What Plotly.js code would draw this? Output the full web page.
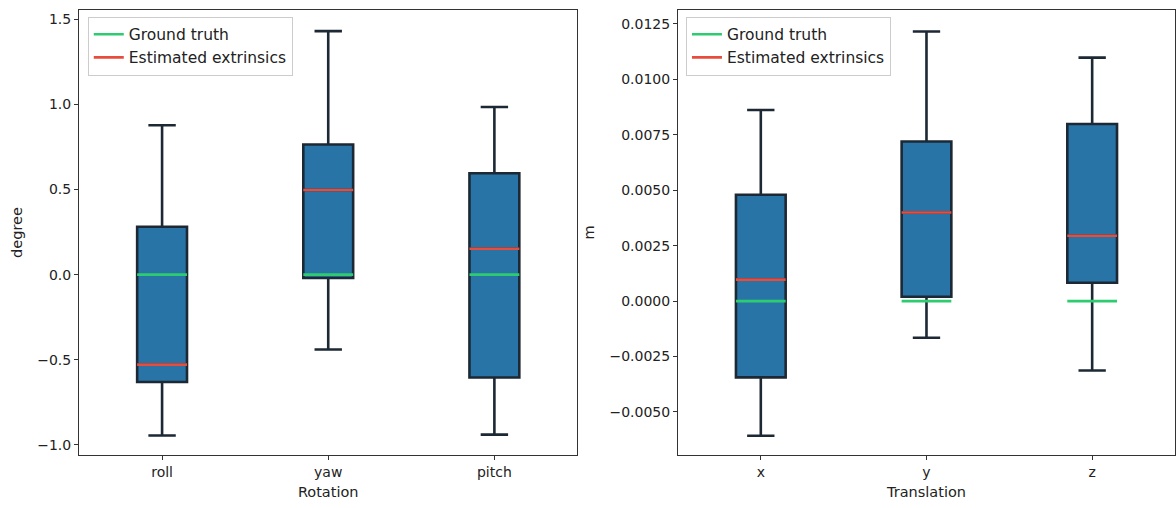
<!DOCTYPE html>
<html>
<head>
<meta charset="utf-8">
<script src="https://cdn.plot.ly/plotly-3.0.1.min.js"></script>
<style>html,body{margin:0;padding:0;background:#fff;}#chart{width:1176px;height:508px;}</style>
</head>
<body>
<div id="chart"></div>
<script>
// ---- Data ----
const rotCategories = ["roll", "yaw", "pitch"];
const rotLowerWhisker = [-0.945, -0.44, -0.94];
const rotQ1 = [-0.631, -0.02, -0.605];
const rotMedian = [-0.529, 0.497, 0.152];
const rotQ3 = [0.281, 0.765, 0.596];
const rotUpperWhisker = [0.878, 1.431, 0.985];
const rotGroundTruth = [0, 0, 0];

const transCategories = ["x", "y", "z"];
const transLowerWhisker = [-0.00607, -0.00165, -0.00313];
const transQ1 = [-0.00344, 0.0002, 0.00083];
const transMedian = [0.00097, 0.0040, 0.00295];
const transQ3 = [0.0048, 0.0072, 0.00799];
const transUpperWhisker = [0.00862, 0.01216, 0.01098];
const transGroundTruth = [0, 0, 0];

// ---- Styling ----
const BOX_FILL = "#2874a6";
const BOX_LINE = "#1c2833";
const GREEN = "#2ecc71";
const RED = "#e74c3c";
const AXIS = "#333333";
const FONT = "DejaVu Sans, sans-serif";
const BOXW = 0.3;
const pos = [1, 2, 3];

function boxTrace(xa, ya, q1, med, q3, lo, hi) {
  return {
    type: "box", x: pos, q1: q1, median: med, q3: q3,
    lowerfence: lo, upperfence: hi, width: BOXW,
    boxpoints: false, whiskerwidth: 0.55,
    fillcolor: BOX_FILL, line: {color: BOX_LINE, width: 2.6},
    xaxis: xa, yaxis: ya, showlegend: false, hoverinfo: "skip"
  };
}
function segTrace(vals, color, name, xa, ya, legend, show) {
  const xs = [], ys = [];
  vals.forEach((v, i) => { xs.push(pos[i] - BOXW / 2, pos[i] + BOXW / 2, null); ys.push(v, v, null); });
  return {
    type: "scatter", mode: "lines", x: xs, y: ys, name: name,
    line: {color: color, width: 2.6}, xaxis: xa, yaxis: ya,
    legend: legend, showlegend: show, hoverinfo: "skip"
  };
}

const data = [
  boxTrace("x", "y", rotQ1, rotMedian, rotQ3, rotLowerWhisker, rotUpperWhisker),
  segTrace(rotGroundTruth, GREEN, "Ground truth", "x", "y", "legend", true),
  segTrace(rotMedian, RED, "Estimated extrinsics", "x", "y", "legend", true),
  boxTrace("x2", "y2", transQ1, transMedian, transQ3, transLowerWhisker, transUpperWhisker),
  segTrace(transGroundTruth, GREEN, "Ground truth", "x2", "y2", "legend2", true),
  segTrace(transMedian, RED, "Estimated extrinsics", "x2", "y2", "legend2", true)
];

const axBase = {
  showline: true, mirror: true, linecolor: AXIS, linewidth: 1,
  ticks: "outside", ticklen: 4, tickwidth: 1, tickcolor: AXIS,
  showgrid: false, zeroline: false,
  tickfont: {family: FONT, size: 14, color: "#222"}
};
function xAxis(domain, cats, title) {
  return Object.assign({}, axBase, {
    domain: domain, range: [0.5, 3.5], tickmode: "array", tickvals: pos, ticktext: cats,
    title: {text: title, font: {family: FONT, size: 14.5, color: "#222"}, standoff: 8}
  });
}
const legendBase = {
  bgcolor: "rgba(255,255,255,0.85)", bordercolor: "#cccccc", borderwidth: 1,
  font: {family: FONT, size: 15.5, color: "#222"},
  xanchor: "left", yanchor: "top", y: 0.985, traceorder: "normal"
};

const layout = {
  width: 1176, height: 508,
  margin: {l: 79, r: 1, t: 10, b: 53},
  paper_bgcolor: "#ffffff", plot_bgcolor: "#ffffff",
  font: {family: FONT, color: "#222"},
  xaxis: xAxis([0, 0.4548], rotCategories, "Rotation"),
  xaxis2: Object.assign(xAxis([0.5465, 1.0], transCategories, "Translation"), {anchor: "y2"}),
  yaxis: Object.assign({}, axBase, {
    range: [-1.06, 1.555], tickmode: "linear", tick0: 0, dtick: 0.5, tickformat: ".1f",
    title: {text: "degree", font: {family: FONT, size: 14.5, color: "#222"}, standoff: 11}
  }),
  yaxis2: Object.assign({}, axBase, {
    anchor: "x2", range: [-0.00694, 0.01313], tickmode: "linear", tick0: 0, dtick: 0.0025, tickformat: ".4f",
    title: {text: "m", font: {family: FONT, size: 14.5, color: "#222"}, standoff: 11}
  }),
  legend: Object.assign({}, legendBase, {x: 0.008}),
  legend2: Object.assign({}, legendBase, {x: 0.5538})
};

Plotly.newPlot("chart", data, layout, {staticPlot: true, displayModeBar: false});
</script>
</body>
</html>
